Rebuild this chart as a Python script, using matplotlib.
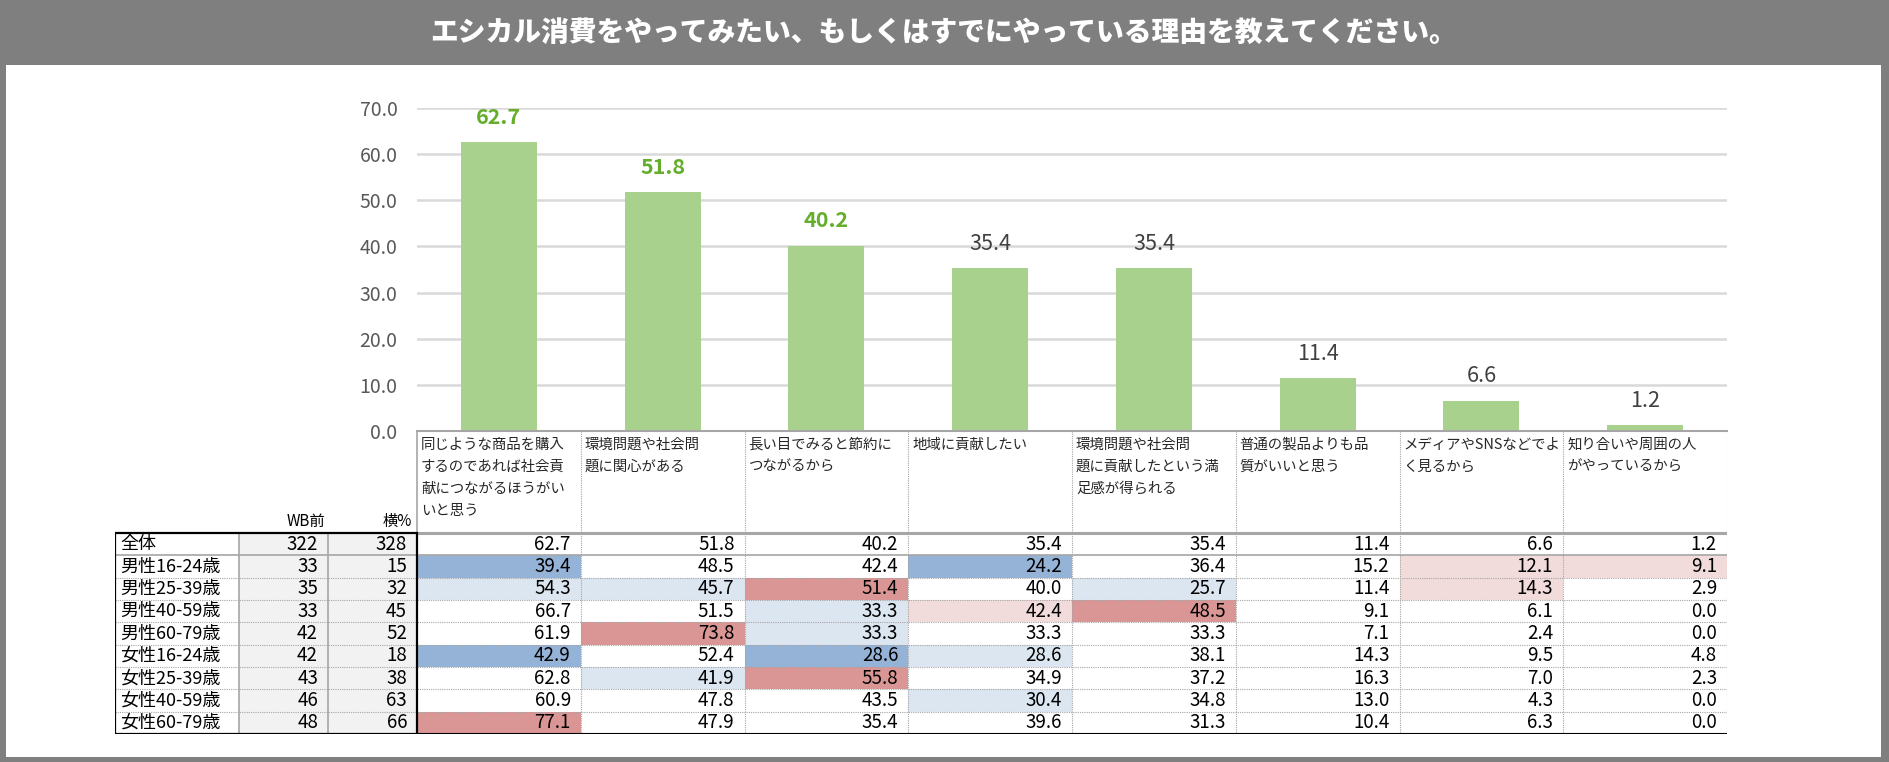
import matplotlib
matplotlib.use('Agg')
import matplotlib.pyplot as plt
from matplotlib.patches import Rectangle

plt.rcParams['font.family'] = ['Noto Sans CJK JP', 'DejaVu Sans']

title = 'エシカル消費をやってみたい、もしくはすでにやっている理由を教えてください。'

categories = [
    ['同じような商品を購入', 'するのであれば社会貢', '献につながるほうがい', 'いと思う'],
    ['環境問題や社会問', '題に関心がある'],
    ['長い目でみると節約に', 'つながるから'],
    ['地域に貢献したい'],
    ['環境問題や社会問', '題に貢献したという満', '足感が得られる'],
    ['普通の製品よりも品', '質がいいと思う'],
    ['メディアやSNSなどでよ', 'く見るから'],
    ['知り合いや周囲の人', 'がやっているから'],
]
overall = [62.7, 51.8, 40.2, 35.4, 35.4, 11.4, 6.6, 1.2]

groups = ['全体', '男性16-24歳', '男性25-39歳', '男性40-59歳', '男性60-79歳',
          '女性16-24歳', '女性25-39歳', '女性40-59歳', '女性60-79歳']
wb_before = [322, 33, 35, 33, 42, 42, 43, 46, 48]
base_n = [328, 15, 32, 45, 52, 18, 38, 63, 66]
table_values = [
    overall,
    [39.4, 48.5, 42.4, 24.2, 36.4, 15.2, 12.1, 9.1],
    [54.3, 45.7, 51.4, 40.0, 25.7, 11.4, 14.3, 2.9],
    [66.7, 51.5, 33.3, 42.4, 48.5, 9.1, 6.1, 0.0],
    [61.9, 73.8, 33.3, 33.3, 33.3, 7.1, 2.4, 0.0],
    [42.9, 52.4, 28.6, 28.6, 38.1, 14.3, 9.5, 4.8],
    [62.8, 41.9, 55.8, 34.9, 37.2, 16.3, 7.0, 2.3],
    [60.9, 47.8, 43.5, 30.4, 34.8, 13.0, 4.3, 0.0],
    [77.1, 47.9, 35.4, 39.6, 31.3, 10.4, 6.3, 0.0],
]

# layout in pixels
W, H = 1889, 762
COL_W = 163.75
LAB_W, N_W = 124, 89
PLOT_L, PLOT_R = 417, 1727
PLOT_T, BASE_Y = 108, 431
TAB_TOP, TAB_BOT = 533, 734
ROW_H = (TAB_BOT - TAB_TOP) / len(groups)
HDR = (TAB_TOP - BASE_Y) / ROW_H

BAR_C = '#A9D18E'
GREEN = '#64AE2C'
GRID = '#D9D9D9'
LINE = '#A6A6A6'


def cell_color(v, ref):
    d = round(v - ref, 1)
    if d >= 10:
        return '#DA9694'
    if d >= 5:
        return '#F2DCDB'
    if d <= -10:
        return '#95B3D7'
    if d <= -5:
        return '#DCE6F1'
    return None


fig = plt.figure(figsize=(W / 100, H / 100), dpi=100)
fig.patch.set_facecolor('#7F7F7F')
fig.patches.append(Rectangle((6 / W, 5 / H), (1881 - 6) / W, (757 - 65) / H,
                             transform=fig.transFigure, facecolor='white',
                             edgecolor='none', zorder=-5))
fig.text(944 / W, 1 - 33 / H, title, color='white', fontsize=20,
         fontweight='black', ha='center', va='center')

# bar chart
ax = fig.add_axes([PLOT_L / W, 1 - BASE_Y / H, (PLOT_R - PLOT_L) / W,
                   (BASE_Y - PLOT_T) / H])
x = list(range(len(overall)))
ax.bar(x, overall, width=0.465, color=BAR_C, zorder=2)
ax.set_xlim(-0.5, len(overall) - 0.5)
ax.set_ylim(0, 70)
ax.set_yticks(range(0, 71, 10))
ax.set_yticklabels([f'{t:.1f}' for t in range(0, 71, 10)])
ax.tick_params(axis='y', length=0, pad=14, labelsize=14, labelcolor='#595959')
ax.set_xticks([])
ax.grid(axis='y', color=GRID, linewidth=1.8, zorder=0)
for s in ['top', 'right', 'left']:
    ax.spines[s].set_visible(False)
ax.spines['bottom'].set_color(LINE)
ax.spines['bottom'].set_linewidth(1.5)
ax.patch.set_alpha(0)
for xi, v in zip(x, overall):
    hi = v >= 40
    ax.annotate(f'{v:.1f}', (xi, v), xytext=(0, 13), textcoords='offset points',
                ha='center', va='baseline', fontsize=15.5,
                color=GREEN if hi else '#404040',
                fontweight='bold' if hi else 'normal')

# table
x_n2 = -0.5 - N_W / COL_W
x_n1 = x_n2 - N_W / COL_W
x_lab = x_n1 - LAB_W / COL_W
tx = fig.add_axes([(PLOT_L - LAB_W - 2 * N_W) / W, 1 - TAB_BOT / H,
                   (PLOT_R - PLOT_L + LAB_W + 2 * N_W) / W,
                   (TAB_BOT - BASE_Y) / H])
tx.set_xlim(x_lab, len(overall) - 0.5)
tx.set_ylim(len(groups), -HDR)
tx.axis('off')
tx.patch.set_alpha(0)

px = 1 / COL_W   # one pixel in x units
py = 1 / ROW_H   # one pixel in y units
nrows = len(groups)
ncols = len(overall)

# gray count columns
tx.add_patch(Rectangle((x_n1, 0), -0.5 - x_n1, nrows, facecolor='#F2F2F2',
                       edgecolor='none', zorder=0))

for r in range(nrows):
    yc = r + 0.5
    tx.text(x_lab + 5 * px, yc, groups[r], ha='left', va='center', fontsize=13)
    tx.text(x_n2 - 10 * px, yc, str(wb_before[r]), ha='right', va='center', fontsize=13.5)
    tx.text(-0.5 - 10 * px, yc, str(base_n[r]), ha='right', va='center', fontsize=13.5)
    for c in range(ncols):
        v = table_values[r][c]
        fc = cell_color(v, overall[c]) if r > 0 else None
        if fc:
            tx.add_patch(Rectangle((c - 0.5, r), 1, 1, facecolor=fc,
                                   edgecolor='none', zorder=0))
        tx.text(c + 0.5 - 10 * px, yc, f'{v:.1f}', ha='right', va='center',
                fontsize=13.5)

# header labels
tx.text(x_n2 - 3 * px, -0.5, 'WB前', ha='right', va='center', fontsize=11)
tx.text(-0.5 - 5 * px, -0.5, '横%', ha='right', va='center', fontsize=11)
for c, lines in enumerate(categories):
    for k, line in enumerate(lines):
        tx.text(c - 0.5 + 4 * px, -HDR + (14 + 22 * k) * py, line,
                ha='left', va='center', fontsize=10.4, color='#262626')

# grid lines of the table
for c in range(ncols):
    tx.plot([c + 0.5, c + 0.5], [-HDR, nrows], color=LINE, lw=0.8,
            ls=(0, (1, 1)), zorder=3)
tx.plot([-0.5, -0.5], [-HDR, 0], color=LINE, lw=1.2, zorder=3)
for r in range(2, nrows):
    tx.plot([x_lab, ncols - 0.5], [r, r], color=LINE, lw=0.8,
            ls=(0, (1, 1)), zorder=3)
tx.plot([x_lab, ncols - 0.5], [1, 1], color=LINE, lw=1.2, zorder=3)
tx.plot([-0.5, ncols - 0.5], [0, 0], color=LINE, lw=2.2, zorder=3)
for xv in [x_n1, x_n2]:
    tx.plot([xv, xv], [0, nrows], color=LINE, lw=1.2, zorder=3)
tx.plot([-0.5, ncols - 0.5], [nrows, nrows], color='black', lw=1.5, zorder=4)
tx.add_patch(Rectangle((x_lab, 0), -0.5 - x_lab, nrows, facecolor='none',
                       edgecolor='black', lw=1.6, zorder=4))

fig.savefig('out.png', dpi=100, facecolor=fig.get_facecolor())
